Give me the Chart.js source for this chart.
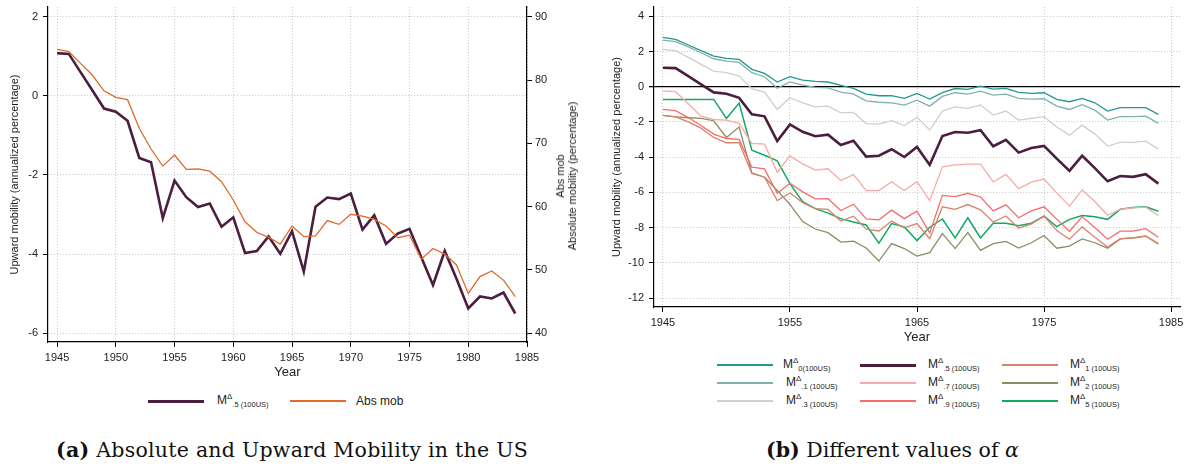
<!DOCTYPE html>
<html>
<head>
<meta charset="utf-8">
<script src="https://cdn.jsdelivr.net/npm/chart.js@4"></script>
<style>
  html, body { margin: 0; padding: 0; background: #fff; }
  body { width: 1185px; height: 469px; position: relative; overflow: hidden;
         font-family: 'Liberation Sans', Arial, sans-serif; color: #222; }
  .abs { position: absolute; }
  .swatch { position: absolute; width: 56px; }
  .lab { position: absolute; font-size: 12px; line-height: 12px; white-space: nowrap; transform: translateY(-50%); }
  .lab sup { font-size: 8px; vertical-align: 5px; }
  .lab sub { font-size: 7.5px; vertical-align: -3px; }
  .caption { position: absolute; top: 438px; font-family: 'DejaVu Serif', serif; font-size: 20.5px;
             color: #111; white-space: nowrap; }
  .rtitle { position: absolute; left: 566px; top: 176px; font-size: 11px; line-height: 12px;
            text-align: center; white-space: nowrap; transform: translate(-50%, -50%) rotate(-90deg); }
</style>
</head>
<body>
<div class="abs" style="left:0;top:0"><canvas id="chartA" width="590" height="380"></canvas></div>
<div class="abs" style="left:590px;top:0"><canvas id="chartB" width="595" height="345"></canvas></div>
<div class="rtitle">Abs mob<br>Absolute mobility (percentage)</div>
<div id="legendA"></div>
<div id="legendB"></div>
<div class="caption" style="left:56px;letter-spacing:0.25px"><b>(a)</b> Absolute and Upward Mobility in the US</div>
<div class="caption" style="left:766px"><b>(b)</b> Different values of <i>α</i></div>

<script>
// ---------- data ----------
const years = [1945, 1946, 1947, 1948, 1949, 1950, 1951, 1952, 1953, 1954,
               1955, 1956, 1957, 1958, 1959, 1960, 1961, 1962, 1963, 1964,
               1965, 1966, 1967, 1968, 1969, 1970, 1971, 1972, 1973, 1974,
               1975, 1976, 1977, 1978, 1979, 1980, 1981, 1982, 1983, 1984];

// M^Δ .5 (upward mobility, annualized %)
const mHalf = [1.08, 1.06, 0.60, 0.14, -0.32, -0.40, -0.63, -1.57, -1.68, -3.09,
               -2.14, -2.56, -2.81, -2.72, -3.31, -3.07, -3.97, -3.92, -3.55, -3.99,
               -3.42, -4.44, -2.80, -2.57, -2.61, -2.47, -3.38, -3.02, -3.74, -3.48,
               -3.36, -4.08, -4.78, -3.92, -4.62, -5.37, -5.07, -5.12, -4.97, -5.50];

// Absolute mobility (percentage, right axis)
const absMob = [84.84, 84.47, 82.63, 80.79, 78.30, 77.26, 76.90, 72.37, 69.10, 66.40,
                68.16, 65.90, 65.95, 65.60, 63.95, 61.05, 57.60, 55.95, 55.16, 54.10,
                56.95, 55.26, 55.40, 57.80, 57.20, 58.80, 58.50, 58.00, 56.95, 55.10,
                55.50, 51.70, 53.40, 52.50, 50.80, 46.30, 48.95, 49.84, 48.40, 45.80];

const m0 = [2.81, 2.69, 2.37, 2.05, 1.74, 1.61, 1.55, 0.99, 0.76, 0.27,
            0.57, 0.38, 0.30, 0.27, 0.08, -0.09, -0.42, -0.51, -0.50, -0.66,
            -0.38, -0.70, -0.33, -0.10, -0.15, 0.03, -0.13, -0.09, -0.32, -0.38,
            -0.34, -0.72, -0.85, -0.66, -0.91, -1.38, -1.19, -1.19, -1.19, -1.57];

const m01 = [2.65, 2.56, 2.27, 1.93, 1.59, 1.46, 1.38, 0.80, 0.57, -0.09,
             0.28, 0.09, -0.04, -0.06, -0.30, -0.42, -0.80, -0.88, -0.91, -1.04,
             -0.76, -1.10, -0.55, -0.34, -0.42, -0.25, -0.47, -0.42, -0.66, -0.70,
             -0.68, -1.10, -1.29, -1.02, -1.33, -1.89, -1.70, -1.70, -1.67, -2.08];

const m03 = [2.12, 2.05, 1.67, 1.27, 0.89, 0.80, 0.61, -0.11, -0.30, -1.29,
             -0.62, -0.91, -1.14, -1.10, -1.48, -1.46, -2.09, -2.12, -1.93, -2.20,
             -1.74, -2.46, -1.38, -1.14, -1.23, -1.04, -1.61, -1.38, -1.89, -1.80,
             -1.70, -2.29, -2.75, -2.18, -2.69, -3.37, -3.16, -3.16, -3.09, -3.54];

const m07 = [-0.23, -0.28, -0.97, -1.67, -1.86, -1.89, -2.08, -3.22, -3.26, -4.85,
             -3.93, -4.38, -4.74, -4.66, -5.33, -4.99, -5.90, -5.90, -5.40, -5.89,
             -5.39, -6.47, -4.55, -4.44, -4.40, -4.40, -5.41, -4.98, -5.79, -5.42,
             -5.24, -6.03, -6.78, -5.86, -6.52, -7.30, -6.95, -6.88, -6.84, -7.31];

const m09 = [-1.29, -1.36, -1.75, -2.20, -2.69, -2.94, -2.99, -4.57, -4.67, -6.05,
             -5.48, -5.97, -6.37, -6.36, -7.03, -6.67, -7.51, -7.56, -7.01, -7.49,
             -7.07, -8.30, -6.17, -6.24, -6.05, -6.26, -7.05, -6.71, -7.44, -7.05,
             -6.82, -7.52, -8.21, -7.39, -8.00, -8.66, -8.20, -8.20, -8.06, -8.55];

const m1 = [-1.63, -1.71, -2.00, -2.35, -2.88, -3.18, -3.18, -4.93, -5.14, -6.46,
            -6.03, -6.58, -6.92, -6.97, -7.63, -7.35, -8.09, -8.19, -7.63, -8.01,
            -7.77, -8.63, -6.82, -6.96, -6.69, -6.99, -7.68, -7.34, -8.04, -7.79,
            -7.35, -8.17, -8.66, -7.96, -8.55, -9.10, -8.63, -8.59, -8.48, -8.95];

const m2 = [-1.63, -1.71, -1.76, -1.80, -1.93, -2.88, -2.29, -4.89, -5.14, -5.89,
            -6.68, -7.66, -8.08, -8.29, -8.82, -8.77, -9.16, -9.90, -8.91, -9.19,
            -9.62, -9.42, -8.34, -9.19, -8.28, -9.29, -8.91, -8.78, -9.16, -8.86,
            -8.45, -9.17, -9.05, -8.64, -8.86, -9.17, -8.64, -8.58, -8.49, -8.90];

const m5 = [-0.72, -0.72, -0.72, -0.72, -0.72, -1.80, -0.93, -3.60, -3.89, -4.21,
            -5.50, -6.53, -6.92, -7.18, -7.49, -7.68, -7.85, -8.89, -7.77, -7.96,
            -8.74, -7.98, -7.51, -8.58, -7.44, -8.59, -7.75, -7.75, -7.90, -7.75,
            -7.35, -7.94, -7.53, -7.32, -7.39, -7.53, -6.96, -6.86, -6.82, -7.07];

// tick labels
const xTicksA = [1945, 1950, 1955, 1960, 1965, 1970, 1975, 1980, 1985];
const yTicksA = [-6, -4, -2, 0, 2];
const y2TicksA = [40, 50, 60, 70, 80, 90];
const xTicksB = [1945, 1955, 1965, 1975, 1985];
const yTicksB = [-12, -10, -8, -6, -4, -2, 0, 2, 4];

// series names / colours for panel b (legend order: column by column)
const seriesB = [
  { key: '0(100US)',  data: m0,    color: '#22998f', width: 1.3 },
  { key: '.1 (100US)', data: m01,  color: '#80b2ad', width: 1.3 },
  { key: '.3 (100US)', data: m03,  color: '#d3cdcd', width: 1.3 },
  { key: '.5 (100US)', data: mHalf, color: '#4b1d3e', width: 2.6 },
  { key: '.7 (100US)', data: m07,  color: '#f8aaa6', width: 1.3 },
  { key: '.9 (100US)', data: m09,  color: '#f36e6c', width: 1.3 },
  { key: '1 (100US)',  data: m1,   color: '#d9836a', width: 1.3 },
  { key: '2 (100US)',  data: m2,   color: '#8b8c63', width: 1.3 },
  { key: '5 (100US)',  data: m5,   color: '#15a865', width: 1.5 },
];

// ---------- helpers ----------
const pts = (vals) => vals.map((v, i) => ({ x: years[i], y: v }));
const fixTicks = (list) => (scale) => { scale.ticks = list.map(v => ({ value: v })); };
// pin an axis box to a fixed size and drop the extra room chart.js keeps for edge labels
const fitBox = (w, h) => (s) => {
  if (w != null) s.width = w;
  if (h != null) s.height = h;
  s.paddingTop = 0; s.paddingBottom = 0; s.paddingLeft = 0; s.paddingRight = 0;
};
const GRID = '#c6c6c6';
const TXT = '#222';

Chart.defaults.font.family = "'Liberation Sans', Arial, sans-serif";
Chart.defaults.color = TXT;
Chart.defaults.animation = false;

const lineDs = (label, vals, color, width, axis) => ({
  label, data: pts(vals), borderColor: color, backgroundColor: color,
  borderWidth: width, pointRadius: 0, tension: 0, yAxisID: axis || 'y'
});

// ---------- panel a ----------
new Chart(document.getElementById('chartA'), {
  type: 'line',
  data: {
    datasets: [
      lineDs('Abs mob', absMob, '#de6a2c', 1.3, 'y2'),
      lineDs('M .5', mHalf, '#4b1d3e', 2.6, 'y'),
    ]
  },
  options: {
    responsive: false,
    layout: { padding: { top: 7, left: 0, right: 0, bottom: 0 } },
    plugins: { legend: { display: false }, tooltip: { enabled: false } },
    scales: {
      x: {
        type: 'linear', min: 1944.23, max: 1985,
        afterBuildTicks: fixTicks(xTicksA),
        afterFit: fitBox(null, 38),
        ticks: { font: { size: 11 }, color: TXT, padding: 4, maxRotation: 0, callback: (v) => String(v) },
        grid: { color: GRID, lineWidth: 1, tickColor: '#000', tickLength: 5 },
        border: { color: '#000', width: 1.2, dash: [1, 2] },
        title: { display: true, text: 'Year', font: { size: 13 }, color: TXT, padding: { top: 0, bottom: 0 } }
      },
      y: {
        position: 'left', min: -6.22, max: 2.245,
        afterBuildTicks: fixTicks(yTicksA),
        afterFit: fitBox(48, null),
        ticks: { font: { size: 11 }, color: TXT, padding: 5 },
        grid: { color: GRID, lineWidth: 1, tickColor: '#000', tickLength: 5 },
        border: { color: '#000', width: 1.2, dash: [1, 2] },
        title: { display: true, text: 'Upward mobility (annualized percentage)', font: { size: 11 }, color: TXT, padding: { top: 8, bottom: 0 } }
      },
      y2: {
        position: 'right', min: 38.625, max: 91.53,
        afterBuildTicks: fixTicks(y2TicksA),
        afterFit: fitBox(63, null),
        ticks: { font: { size: 11 }, color: TXT, padding: 3 },
        grid: { drawOnChartArea: false, tickColor: '#000', tickLength: 5 },
        border: { color: '#000', width: 1.2 }
      }
    }
  }
});

// ---------- panel b ----------
new Chart(document.getElementById('chartB'), {
  type: 'line',
  data: {
    // draw the thick purple line last so it sits on top
    datasets: seriesB.filter(s => s.data !== mHalf).map(s => lineDs(s.key, s.data, s.color, s.width))
      .concat(seriesB.filter(s => s.data === mHalf).map(s => lineDs(s.key, s.data, s.color, s.width)))
  },
  options: {
    responsive: false,
    layout: { padding: { top: 7, left: 0, right: 5, bottom: 0 } },
    plugins: { legend: { display: false }, tooltip: { enabled: false } },
    scales: {
      x: {
        type: 'linear', min: 1944.3, max: 1985.7,
        afterBuildTicks: fixTicks(xTicksB),
        afterFit: fitBox(null, 38),
        ticks: { font: { size: 11 }, color: TXT, padding: 4, maxRotation: 0, callback: (v) => String(v) },
        grid: { color: GRID, lineWidth: 1, tickColor: '#000', tickLength: 5 },
        border: { color: '#000', width: 1.2, dash: [1, 2] },
        title: { display: true, text: 'Year', font: { size: 13 }, color: TXT, padding: { top: 0, bottom: 0 } }
      },
      y: {
        position: 'left', min: -12.51, max: 4.53,
        afterBuildTicks: fixTicks(yTicksB),
        afterFit: fitBox(64, null),
        ticks: { font: { size: 11 }, color: TXT, padding: 5 },
        grid: {
          color: (c) => (c.tick && c.tick.value === 0 ? '#000' : GRID),
          lineWidth: (c) => (c.tick && c.tick.value === 0 ? 1.3 : 1),
          tickColor: '#000', tickLength: 5
        },
        border: { color: '#000', width: 1.2, dash: (c) => (c.tick && c.tick.value === 0 ? [] : [1, 2]) },
        title: { display: true, text: 'Upward mobility (annualized percentage)', font: { size: 11 }, color: TXT, padding: { top: 20, bottom: 0 } }
      }
    }
  }
});

// ---------- legends (html, for the super/subscripts) ----------
const labelHtml = (sub) => `M<sup>&Delta;</sup><sub>${sub}</sub>`;

function addEntry(host, x, y, color, width, textX, html) {
  const sw = document.createElement('div');
  sw.className = 'swatch';
  sw.style.left = x + 'px';
  sw.style.top = (y - width / 2) + 'px';
  sw.style.height = width + 'px';
  sw.style.background = color;
  host.appendChild(sw);
  const lab = document.createElement('div');
  lab.className = 'lab';
  lab.style.left = textX + 'px';
  lab.style.top = y + 'px';
  lab.innerHTML = html;
  host.appendChild(lab);
}

const legA = document.getElementById('legendA');
addEntry(legA, 148, 401, '#4b1d3e', 3, 217, labelHtml('.5 (100US)'));
addEntry(legA, 290, 401, '#de6a2c', 1.5, 356, 'Abs mob');

const legB = document.getElementById('legendB');
const colX = [717, 860, 1002];
const labX = [[783, 786, 786], [928, 928, 928], [1070, 1070, 1070]];
const rowY = [365, 383, 401];
seriesB.forEach((s, i) => {
  const c = Math.floor(i / 3), r = i % 3;
  addEntry(legB, colX[c], rowY[r], s.color, s.width > 2 ? 3 : 1.5, labX[c][r], labelHtml(s.key));
});
</script>
</body>
</html>
